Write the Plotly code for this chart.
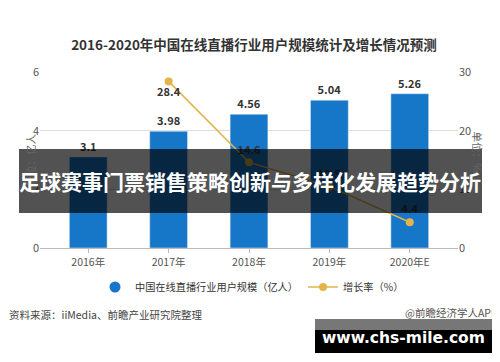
import plotly.graph_objects as go

years = ["2016年", "2017年", "2018年", "2019年", "2020年E"]
users = [3.1, 3.98, 4.56, 5.04, 5.26]
growth = [None, 28.4, 14.6, 10.5, 4.4]
growth_pos = ["top center", "bottom center", "top center", "top center", "top center"]

title_text = "2016-2020年中国在线直播行业用户规模统计及增长情况预测"
bar_name = "中国在线直播行业用户规模（亿人）"
line_name = "增长率（%）"
source_text = "资料来源：iiMedia、前瞻产业研究院整理"
brand_text = "@前瞻经济学人APP"
banner_text = "足球赛事门票销售策略创新与多样化发展趋势分析"
watermark_text = "www.chs-mile.com"

# the page body adds an 8px offset; work in reference pixels and subtract it
OFF = 8
W, H = 500 - OFF, 362 - OFF
L = 40 - OFF
T = 72 - OFF
R = W - (458 - OFF)
B = H - (248 - OFF)
PW, PH = W - L - R, H - T - B


def px(x):
    return (x - OFF - L) / PW


def py(y):
    return (H - B - (y - OFF)) / PH


BAR_COLOR = "#1677c9"
LINE_COLOR = "#e3b44a"
FONT = "Noto Sans CJK SC, Noto Sans, sans-serif"

fig = go.Figure()
fig.add_trace(go.Bar(
    x=years, y=users, width=0.47, marker_color=BAR_COLOR,
    text=[str(v) for v in users], textposition="outside",
    textfont=dict(size=11, color="#333", family=FONT, weight="bold"),
    cliponaxis=False, showlegend=False, name=bar_name,
))
fig.add_trace(go.Scatter(
    x=[None], y=[None], mode="markers", name=bar_name,
    marker=dict(color=BAR_COLOR, size=11, symbol="circle"), showlegend=True,
))
fig.add_trace(go.Scatter(
    x=years, y=growth, yaxis="y2", mode="lines+markers+text", name=line_name,
    line=dict(color=LINE_COLOR, width=1.5),
    marker=dict(color=LINE_COLOR, size=8),
    text=[("" if v is None else str(v)) for v in growth],
    textposition=growth_pos,
    textfont=dict(size=11, color="#333", family=FONT, weight="bold"),
    cliponaxis=False,
))

fig.update_layout(
    width=W, height=H,
    margin=dict(l=L, r=R, t=T, b=B, pad=0),
    paper_bgcolor="white", plot_bgcolor="white",
    font=dict(family=FONT, color="#555", size=11),
    title=dict(text="<b>" + title_text + "</b>", x=0.5, xanchor="center",
               y=1 - (45 - OFF) / H, yanchor="middle",
               font=dict(size=13.5, color="#333", family=FONT)),
    xaxis=dict(range=[-0.6, 4.6], showgrid=False, showline=True, linecolor="#bbb",
               ticks="outside", ticklen=4, tickcolor="#bbb",
               tickfont=dict(size=10.5, color="#555")),
    yaxis=dict(range=[0, 6], dtick=2, showgrid=True, gridcolor="#ddd",
               zeroline=False, showline=False, ticks="",
               tickfont=dict(size=11, color="#555")),
    yaxis2=dict(range=[0, 30], dtick=10, overlaying="y", side="right",
                showgrid=False, zeroline=False, showline=False,
                tickfont=dict(size=11, color="#555")),
    legend=dict(orientation="h", x=px(252), xanchor="center", y=py(287), yanchor="middle",
                font=dict(size=10.2, color="#333"), bgcolor="rgba(0,0,0,0)",
                itemwidth=30),
    showlegend=True,
)

annotations = [
    dict(text="单位：亿人", x=px(20), y=py(160), xref="paper", yref="paper",
         showarrow=False, textangle=-90, font=dict(size=10.5, color="#666")),
    dict(text="单位：%", x=px(487), y=py(152), xref="paper", yref="paper",
         showarrow=False, textangle=90, font=dict(size=10.5, color="#666")),
    dict(text=source_text, x=px(7), y=py(314), xref="paper", yref="paper",
         xanchor="left", yanchor="middle", showarrow=False,
         font=dict(size=10.5, color="#444")),
    dict(text=brand_text, x=px(500), y=py(312), xref="paper", yref="paper",
         xanchor="right", yanchor="middle", showarrow=False,
         font=dict(size=10.5, color="#555")),
    dict(text="<b>" + banner_text + "</b>", x=px(250), y=py(181), xref="paper", yref="paper",
         xanchor="center", yanchor="middle", showarrow=False,
         font=dict(size=21, color="white", family=FONT)),
    dict(text="<b>" + watermark_text + "</b>", x=px(403), y=py(338), xref="paper", yref="paper",
         xanchor="center", yanchor="middle", showarrow=False,
         font=dict(size=15.5, color="white", family="DejaVu Sans, sans-serif")),
]
fig.update_layout(annotations=annotations)

shapes = [
    dict(type="rect", xref="paper", yref="paper", x0=px(19), x1=px(482), y0=py(213), y1=py(149),
         fillcolor="rgba(0,0,0,0.68)", line=dict(width=0), layer="above"),
    dict(type="rect", xref="paper", yref="paper", x0=px(315), x1=px(492), y0=py(353), y1=py(319),
         fillcolor="black", line=dict(width=0), layer="above"),
    dict(type="rect", xref="paper", yref="paper", x0=px(315), x1=px(492), y0=py(330), y1=py(319),
         fillcolor="#777", line=dict(width=0), layer="above"),
]
fig.update_layout(shapes=shapes)

fig.write_html("out.html")
